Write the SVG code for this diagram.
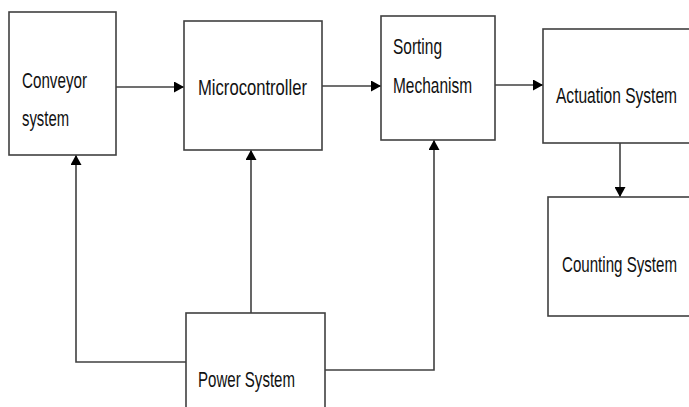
<svg xmlns="http://www.w3.org/2000/svg" width="689" height="407" viewBox="0 0 689 407">
<style>
.box{fill:#fff;stroke:#404040;stroke-width:1.6}
.ln{fill:none;stroke:#404040;stroke-width:1.6}
.t{font-family:"Liberation Sans",Arial,sans-serif;font-size:22px;fill:#111}
</style>
<defs>
<marker id="ah" viewBox="0 0 10 11" refX="10" refY="5.5" markerWidth="10" markerHeight="11" markerUnits="userSpaceOnUse" orient="auto">
<path d="M0,0 L10,5.5 L0,11 Z" fill="#000"/>
</marker>
</defs>
<rect width="689" height="407" fill="#fff"/>
<g id="connectors">
<line class="ln" x1="116" y1="87" x2="184" y2="87" marker-end="url(#ah)"/>
<line class="ln" x1="322" y1="86" x2="381" y2="86" marker-end="url(#ah)"/>
<line class="ln" x1="495" y1="85" x2="543" y2="85" marker-end="url(#ah)"/>
<line class="ln" x1="620" y1="143" x2="620" y2="197" marker-end="url(#ah)"/>
<line class="ln" x1="251" y1="313" x2="251" y2="150" marker-end="url(#ah)"/>
<polyline class="ln" points="186,362 76,362 76,155" marker-end="url(#ah)"/>
<polyline class="ln" points="325,370 434,370 434,140" marker-end="url(#ah)"/>
</g>
<g id="conveyor">
<rect class="box" x="9" y="12" width="107" height="143"/>
<text class="t" x="22" y="88" textLength="65" lengthAdjust="spacingAndGlyphs">Conveyor</text>
<text class="t" x="22" y="126" textLength="47" lengthAdjust="spacingAndGlyphs">system</text>
</g>
<g id="microcontroller">
<rect class="box" x="184" y="21" width="138" height="129"/>
<text class="t" x="198" y="95" textLength="109" lengthAdjust="spacingAndGlyphs">Microcontroller</text>
</g>
<g id="sorting">
<rect class="box" x="381" y="16" width="114" height="124"/>
<text class="t" x="393" y="54" textLength="49" lengthAdjust="spacingAndGlyphs">Sorting</text>
<text class="t" x="393" y="93" textLength="79" lengthAdjust="spacingAndGlyphs">Mechanism</text>
</g>
<g id="actuation">
<rect class="box" x="543" y="29" width="150" height="114"/>
<text class="t" x="556" y="103" textLength="121" lengthAdjust="spacingAndGlyphs">Actuation System</text>
</g>
<g id="counting">
<rect class="box" x="548" y="197" width="145" height="119"/>
<text class="t" x="562" y="272" textLength="115" lengthAdjust="spacingAndGlyphs">Counting System</text>
</g>
<g id="power">
<rect class="box" x="186" y="313" width="139" height="100"/>
<text class="t" x="198" y="387" textLength="97" lengthAdjust="spacingAndGlyphs">Power System</text>
</g>
</svg>
